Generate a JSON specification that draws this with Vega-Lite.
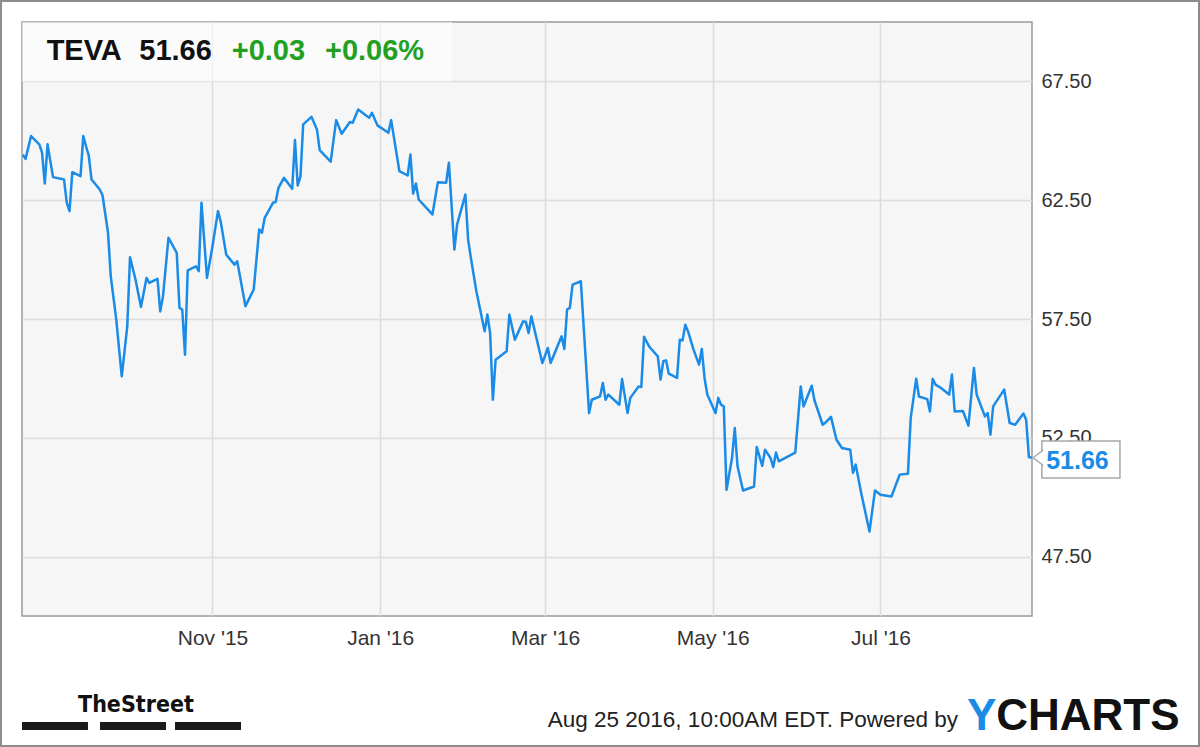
{
  "$schema": "https://vega.github.io/schema/vega-lite/v6.json",
  "width": 1010,
  "height": 594,
  "autosize": {"type": "none"},
  "padding": {"left": 22, "top": 22, "right": 168, "bottom": 131},
  "background": "white",
  "config": {
    "view": {"fill": "#f6f6f6", "stroke": "#9a9a9a", "strokeWidth": 1.5},
    "axis": {"grid": true, "gridColor": "#dcdcdc", "gridWidth": 1.5, "ticks": false, "domain": false, "labelFont": "Liberation Sans", "labelFontSize": 20, "labelColor": "#333333", "title": null}
  },
  "data": {"values": [{}]},
  "datasets": {
    "teva": [
      {"date": "2015-08-24", "close": 64.42}, {"date": "2015-08-25", "close": 64.24}, {"date": "2015-08-27", "close": 65.20},
      {"date": "2015-08-30", "close": 64.85}, {"date": "2015-08-31", "close": 64.50}, {"date": "2015-09-01", "close": 63.20},
      {"date": "2015-09-02", "close": 64.85}, {"date": "2015-09-04", "close": 63.47}, {"date": "2015-09-08", "close": 63.37},
      {"date": "2015-09-09", "close": 62.39}, {"date": "2015-09-10", "close": 62.04}, {"date": "2015-09-11", "close": 63.68},
      {"date": "2015-09-14", "close": 63.51}, {"date": "2015-09-15", "close": 65.20}, {"date": "2015-09-16", "close": 64.77},
      {"date": "2015-09-17", "close": 64.38}, {"date": "2015-09-18", "close": 63.37}, {"date": "2015-09-21", "close": 62.95},
      {"date": "2015-09-22", "close": 62.71}, {"date": "2015-09-24", "close": 61.13}, {"date": "2015-09-25", "close": 59.30},
      {"date": "2015-09-27", "close": 57.47}, {"date": "2015-09-29", "close": 55.09}, {"date": "2015-10-01", "close": 57.19},
      {"date": "2015-10-02", "close": 60.10}, {"date": "2015-10-04", "close": 59.16}, {"date": "2015-10-06", "close": 58.01},
      {"date": "2015-10-08", "close": 59.23}, {"date": "2015-10-09", "close": 59.02}, {"date": "2015-10-12", "close": 59.19},
      {"date": "2015-10-13", "close": 57.82}, {"date": "2015-10-14", "close": 58.46}, {"date": "2015-10-16", "close": 60.92},
      {"date": "2015-10-19", "close": 60.28}, {"date": "2015-10-20", "close": 57.97}, {"date": "2015-10-21", "close": 57.90},
      {"date": "2015-10-22", "close": 56.00}, {"date": "2015-10-23", "close": 59.55}, {"date": "2015-10-26", "close": 59.72},
      {"date": "2015-10-27", "close": 59.51}, {"date": "2015-10-28", "close": 62.39}, {"date": "2015-10-30", "close": 59.23},
      {"date": "2015-11-01", "close": 60.56}, {"date": "2015-11-03", "close": 62.04}, {"date": "2015-11-04", "close": 61.60},
      {"date": "2015-11-06", "close": 60.21}, {"date": "2015-11-09", "close": 59.79}, {"date": "2015-11-10", "close": 59.93},
      {"date": "2015-11-13", "close": 58.04}, {"date": "2015-11-16", "close": 58.74}, {"date": "2015-11-18", "close": 61.27},
      {"date": "2015-11-19", "close": 61.13}, {"date": "2015-11-20", "close": 61.76}, {"date": "2015-11-23", "close": 62.39},
      {"date": "2015-11-24", "close": 62.42}, {"date": "2015-11-25", "close": 63.02}, {"date": "2015-11-27", "close": 63.44},
      {"date": "2015-11-30", "close": 62.98}, {"date": "2015-12-01", "close": 65.03}, {"date": "2015-12-02", "close": 63.12},
      {"date": "2015-12-03", "close": 63.49}, {"date": "2015-12-04", "close": 65.69}, {"date": "2015-12-07", "close": 66.01},
      {"date": "2015-12-09", "close": 65.48}, {"date": "2015-12-10", "close": 64.61}, {"date": "2015-12-14", "close": 64.12},
      {"date": "2015-12-16", "close": 65.87}, {"date": "2015-12-18", "close": 65.30}, {"date": "2015-12-21", "close": 65.79},
      {"date": "2015-12-22", "close": 65.76}, {"date": "2015-12-24", "close": 66.32}, {"date": "2015-12-28", "close": 65.97},
      {"date": "2015-12-29", "close": 66.18}, {"date": "2015-12-31", "close": 65.65}, {"date": "2016-01-04", "close": 65.34},
      {"date": "2016-01-05", "close": 65.87}, {"date": "2016-01-08", "close": 63.72}, {"date": "2016-01-11", "close": 63.54},
      {"date": "2016-01-12", "close": 64.42}, {"date": "2016-01-13", "close": 62.78}, {"date": "2016-01-14", "close": 63.20},
      {"date": "2016-01-15", "close": 62.53}, {"date": "2016-01-20", "close": 61.90}, {"date": "2016-01-22", "close": 63.26},
      {"date": "2016-01-25", "close": 63.23}, {"date": "2016-01-26", "close": 64.08}, {"date": "2016-01-28", "close": 60.42},
      {"date": "2016-01-29", "close": 61.48}, {"date": "2016-02-01", "close": 62.74}, {"date": "2016-02-02", "close": 60.84},
      {"date": "2016-02-03", "close": 60.07}, {"date": "2016-02-05", "close": 58.67}, {"date": "2016-02-08", "close": 56.98},
      {"date": "2016-02-09", "close": 57.69}, {"date": "2016-02-10", "close": 56.91}, {"date": "2016-02-11", "close": 54.10},
      {"date": "2016-02-12", "close": 55.79}, {"date": "2016-02-16", "close": 56.14}, {"date": "2016-02-17", "close": 57.69},
      {"date": "2016-02-19", "close": 56.63}, {"date": "2016-02-22", "close": 57.40}, {"date": "2016-02-23", "close": 57.38},
      {"date": "2016-02-24", "close": 56.91}, {"date": "2016-02-25", "close": 57.61}, {"date": "2016-02-29", "close": 55.65},
      {"date": "2016-03-02", "close": 56.28}, {"date": "2016-03-03", "close": 55.65}, {"date": "2016-03-07", "close": 56.77},
      {"date": "2016-03-08", "close": 56.24}, {"date": "2016-03-09", "close": 57.90}, {"date": "2016-03-10", "close": 57.97},
      {"date": "2016-03-11", "close": 58.95}, {"date": "2016-03-14", "close": 59.09}, {"date": "2016-03-17", "close": 53.54},
      {"date": "2016-03-18", "close": 54.10}, {"date": "2016-03-21", "close": 54.24}, {"date": "2016-03-22", "close": 54.81},
      {"date": "2016-03-23", "close": 54.10}, {"date": "2016-03-24", "close": 54.32}, {"date": "2016-03-28", "close": 53.89},
      {"date": "2016-03-29", "close": 54.97}, {"date": "2016-03-31", "close": 53.54}, {"date": "2016-04-01", "close": 54.18},
      {"date": "2016-04-04", "close": 54.66}, {"date": "2016-04-05", "close": 54.64}, {"date": "2016-04-06", "close": 56.75},
      {"date": "2016-04-08", "close": 56.32}, {"date": "2016-04-11", "close": 55.93}, {"date": "2016-04-12", "close": 54.95},
      {"date": "2016-04-13", "close": 55.72}, {"date": "2016-04-14", "close": 55.76}, {"date": "2016-04-15", "close": 55.20},
      {"date": "2016-04-18", "close": 55.02}, {"date": "2016-04-19", "close": 56.63}, {"date": "2016-04-20", "close": 56.60},
      {"date": "2016-04-21", "close": 57.26}, {"date": "2016-04-22", "close": 56.98}, {"date": "2016-04-24", "close": 56.21},
      {"date": "2016-04-26", "close": 55.58}, {"date": "2016-04-27", "close": 56.24}, {"date": "2016-04-28", "close": 55.02},
      {"date": "2016-04-29", "close": 54.32}, {"date": "2016-05-02", "close": 53.54}, {"date": "2016-05-03", "close": 54.18},
      {"date": "2016-05-04", "close": 53.89}, {"date": "2016-05-05", "close": 53.82}, {"date": "2016-05-06", "close": 50.31},
      {"date": "2016-05-08", "close": 51.65}, {"date": "2016-05-09", "close": 52.91}, {"date": "2016-05-10", "close": 51.30},
      {"date": "2016-05-12", "close": 50.28}, {"date": "2016-05-16", "close": 50.45}, {"date": "2016-05-17", "close": 52.11},
      {"date": "2016-05-19", "close": 51.32}, {"date": "2016-05-20", "close": 52.00}, {"date": "2016-05-22", "close": 51.65},
      {"date": "2016-05-23", "close": 51.27}, {"date": "2016-05-24", "close": 51.88}, {"date": "2016-05-25", "close": 51.51},
      {"date": "2016-05-31", "close": 51.88}, {"date": "2016-06-02", "close": 54.66}, {"date": "2016-06-03", "close": 53.82},
      {"date": "2016-06-06", "close": 54.69}, {"date": "2016-06-07", "close": 54.07}, {"date": "2016-06-10", "close": 53.05},
      {"date": "2016-06-11", "close": 53.14}, {"date": "2016-06-13", "close": 53.38}, {"date": "2016-06-15", "close": 52.42},
      {"date": "2016-06-17", "close": 52.07}, {"date": "2016-06-20", "close": 52.00}, {"date": "2016-06-21", "close": 51.02},
      {"date": "2016-06-22", "close": 51.37}, {"date": "2016-06-24", "close": 50.17}, {"date": "2016-06-27", "close": 48.56},
      {"date": "2016-06-29", "close": 50.28}, {"date": "2016-07-01", "close": 50.10}, {"date": "2016-07-05", "close": 50.03},
      {"date": "2016-07-08", "close": 50.95}, {"date": "2016-07-11", "close": 50.99}, {"date": "2016-07-12", "close": 53.33},
      {"date": "2016-07-14", "close": 54.99}, {"date": "2016-07-15", "close": 54.24}, {"date": "2016-07-18", "close": 54.13},
      {"date": "2016-07-19", "close": 53.61}, {"date": "2016-07-20", "close": 54.98}, {"date": "2016-07-21", "close": 54.74},
      {"date": "2016-07-23", "close": 54.60}, {"date": "2016-07-26", "close": 54.32}, {"date": "2016-07-27", "close": 55.16},
      {"date": "2016-07-28", "close": 53.61}, {"date": "2016-07-31", "close": 53.63}, {"date": "2016-08-02", "close": 53.01},
      {"date": "2016-08-04", "close": 55.44}, {"date": "2016-08-05", "close": 54.32}, {"date": "2016-08-08", "close": 53.40},
      {"date": "2016-08-09", "close": 53.54}, {"date": "2016-08-10", "close": 52.63}, {"date": "2016-08-11", "close": 53.82},
      {"date": "2016-08-15", "close": 54.53}, {"date": "2016-08-17", "close": 53.12}, {"date": "2016-08-19", "close": 53.05},
      {"date": "2016-08-22", "close": 53.52}, {"date": "2016-08-23", "close": 53.26}, {"date": "2016-08-24", "close": 51.69},
      {"date": "2016-08-25", "close": 51.66}
    ]
  },
  "layer": [
    {
      "mark": {"type": "rect", "fill": "white", "opacity": 0.55},
      "encoding": {
        "x": {"datum": {"year": 2015, "month": 8, "date": 23, "hours": 17, "utc": true}, "type": "temporal", "scale": {"type": "utc"}},
        "x2": {"datum": {"year": 2016, "month": 1, "date": 27, "hours": 3, "utc": true}},
        "y": {"datum": 67.5, "type": "quantitative"},
        "y2": {"datum": 70}
      }
    },
    {
      "data": {"name": "teva"},
      "mark": {"type": "line", "color": "#1a8be6", "strokeWidth": 2.5, "strokeJoin": "round"},
      "encoding": {
        "x": {
          "field": "date", "type": "temporal",
          "scale": {"type": "utc", "domain": [{"year": 2015, "month": 8, "date": 23, "hours": 17, "utc": true}, {"year": 2016, "month": 8, "date": 25, "hours": 3, "utc": true}]},
          "axis": {
            "values": [{"year": 2015, "month": 11, "date": 1, "utc": true}, {"year": 2016, "month": 1, "date": 1, "utc": true}, {"year": 2016, "month": 3, "date": 1, "utc": true}, {"year": 2016, "month": 5, "date": 1, "utc": true}, {"year": 2016, "month": 7, "date": 1, "utc": true}],
            "format": "%b '%y", "labelPadding": 11, "labelFontSize": 21
          }
        },
        "y": {
          "field": "close", "type": "quantitative",
          "scale": {"domain": [45, 70], "nice": false, "zero": false},
          "axis": {"orient": "right", "values": [47.5, 52.5, 57.5, 62.5, 67.5], "format": ".2f", "labelPadding": 9, "labelFontSize": 20}
        }
      }
    },
    {
      "mark": {"type": "rect", "fill": "white", "stroke": "#a8a8a8", "strokeWidth": 1.5},
      "encoding": {
        "x": {"datum": {"year": 2016, "month": 8, "date": 28, "hours": 17, "utc": true}, "type": "temporal"},
        "x2": {"datum": {"year": 2016, "month": 9, "date": 26, "hours": 3, "utc": true}},
        "y": {"datum": 52.37, "type": "quantitative"},
        "y2": {"datum": 50.81}
      }
    },
    {
      "mark": {"type": "point", "shape": "M -0.67 0 L 0.67 -1 L 0.67 1 Z", "filled": true, "fill": "white", "stroke": "#a8a8a8", "strokeWidth": 1.5, "size": 324, "opacity": 1},
      "encoding": {
        "x": {"datum": {"year": 2016, "month": 8, "date": 27, "hours": 17, "utc": true}, "type": "temporal"},
        "y": {"datum": 51.66, "type": "quantitative"}
      }
    },
    {
      "mark": {"type": "rect", "fill": "white"},
      "encoding": {
        "x": {"datum": {"year": 2016, "month": 8, "date": 29, "hours": 6, "utc": true}, "type": "temporal"},
        "x2": {"datum": {"year": 2016, "month": 9, "date": 25, "hours": 12, "utc": true}},
        "y": {"datum": 52.30, "type": "quantitative"},
        "y2": {"datum": 50.87}
      }
    },
    {
      "mark": {"type": "text", "text": "51.66", "font": "Liberation Sans", "fontWeight": "bold", "fontSize": 25, "color": "#1a8be6", "align": "left", "baseline": "alphabetic"},
      "encoding": {
        "x": {"datum": {"year": 2016, "month": 8, "date": 30, "hours": 7, "utc": true}, "type": "temporal"},
        "y": {"datum": 51.19, "type": "quantitative"}
      }
    },
    {
      "mark": {"type": "text", "text": "TEVA", "font": "Liberation Sans", "fontWeight": "bold", "fontSize": 29, "color": "#111111", "align": "left", "baseline": "alphabetic"},
      "encoding": {
        "x": {"datum": {"year": 2015, "month": 9, "date": 1, "hours": 16, "utc": true}, "type": "temporal"},
        "y": {"datum": 68.38, "type": "quantitative"}
      }
    },
    {
      "mark": {"type": "text", "text": "51.66", "font": "Liberation Sans", "fontWeight": "bold", "fontSize": 29, "color": "#111111", "align": "left", "baseline": "alphabetic"},
      "encoding": {
        "x": {"datum": {"year": 2015, "month": 10, "date": 5, "hours": 9, "utc": true}, "type": "temporal"},
        "y": {"datum": 68.38, "type": "quantitative"}
      }
    },
    {
      "mark": {"type": "text", "text": "+0.03", "font": "Liberation Sans", "fontWeight": "bold", "fontSize": 29, "color": "#22a022", "align": "left", "baseline": "alphabetic"},
      "encoding": {
        "x": {"datum": {"year": 2015, "month": 11, "date": 8, "utc": true}, "type": "temporal"},
        "y": {"datum": 68.38, "type": "quantitative"}
      }
    },
    {
      "mark": {"type": "text", "text": "+0.06%", "font": "Liberation Sans", "fontWeight": "bold", "fontSize": 29, "color": "#22a022", "align": "left", "baseline": "alphabetic"},
      "encoding": {
        "x": {"datum": {"year": 2015, "month": 12, "date": 11, "hours": 22, "utc": true}, "type": "temporal"},
        "y": {"datum": 68.38, "type": "quantitative"}
      }
    },
    {
      "mark": {"type": "text", "text": "TheStreet", "font": "DejaVu Sans Condensed", "fontWeight": "bold", "fontSize": 23, "color": "#111111", "align": "left", "baseline": "alphabetic"},
      "encoding": {
        "x": {"datum": {"year": 2015, "month": 9, "date": 13, "hours": 2, "utc": true}, "type": "temporal"},
        "y": {"datum": 40.96, "type": "quantitative"}
      }
    },
    {
      "mark": {"type": "rect", "fill": "#1a1a1a"},
      "encoding": {
        "x": {"datum": {"year": 2015, "month": 8, "date": 23, "hours": 17, "utc": true}, "type": "temporal"},
        "x2": {"datum": {"year": 2015, "month": 9, "date": 16, "hours": 17, "utc": true}},
        "y": {"datum": 40.54, "type": "quantitative"},
        "y2": {"datum": 40.20}
      }
    },
    {
      "mark": {"type": "rect", "fill": "#1a1a1a"},
      "encoding": {
        "x": {"datum": {"year": 2015, "month": 9, "date": 21, "hours": 2, "utc": true}, "type": "temporal"},
        "x2": {"datum": {"year": 2015, "month": 10, "date": 15, "hours": 2, "utc": true}},
        "y": {"datum": 40.54, "type": "quantitative"},
        "y2": {"datum": 40.20}
      }
    },
    {
      "mark": {"type": "rect", "fill": "#1a1a1a"},
      "encoding": {
        "x": {"datum": {"year": 2015, "month": 10, "date": 18, "hours": 9, "utc": true}, "type": "temporal"},
        "x2": {"datum": {"year": 2015, "month": 11, "date": 11, "hours": 9, "utc": true}},
        "y": {"datum": 40.54, "type": "quantitative"},
        "y2": {"datum": 40.20}
      }
    },
    {
      "mark": {"type": "text", "text": "Aug 25 2016, 10:00AM EDT.  Powered by", "font": "Liberation Sans", "fontSize": 22.5, "color": "#222222", "align": "right", "baseline": "alphabetic"},
      "encoding": {
        "x": {"datum": {"year": 2016, "month": 7, "date": 29, "hours": 5, "utc": true}, "type": "temporal"},
        "y": {"datum": 40.33, "type": "quantitative"}
      }
    },
    {
      "mark": {"type": "text", "text": "Y", "font": "Liberation Sans", "fontWeight": "bold", "fontSize": 44, "color": "#1a8be6", "align": "left", "baseline": "alphabetic"},
      "encoding": {
        "x": {"datum": {"year": 2016, "month": 8, "date": 1, "hours": 11, "utc": true}, "type": "temporal"},
        "y": {"datum": 40.20, "type": "quantitative"}
      }
    },
    {
      "mark": {"type": "text", "text": "CHARTS", "font": "Liberation Sans", "fontWeight": "bold", "fontSize": 44, "color": "#111111", "align": "left", "baseline": "alphabetic"},
      "encoding": {
        "x": {"datum": {"year": 2016, "month": 8, "date": 12, "hours": 3, "utc": true}, "type": "temporal"},
        "y": {"datum": 40.20, "type": "quantitative"}
      }
    },
    {
      "mark": {"type": "rect", "fill": null, "fillOpacity": 0, "stroke": "#8c8c8c", "strokeWidth": 2},
      "encoding": {
        "x": {"datum": {"year": 2015, "month": 8, "date": 16, "hours": 2, "utc": true}, "type": "temporal"},
        "x2": {"datum": {"year": 2016, "month": 10, "date": 24, "hours": 21, "utc": true}},
        "y": {"datum": 70.88, "type": "quantitative"},
        "y2": {"datum": 39.53}
      }
    }
  ]
}
